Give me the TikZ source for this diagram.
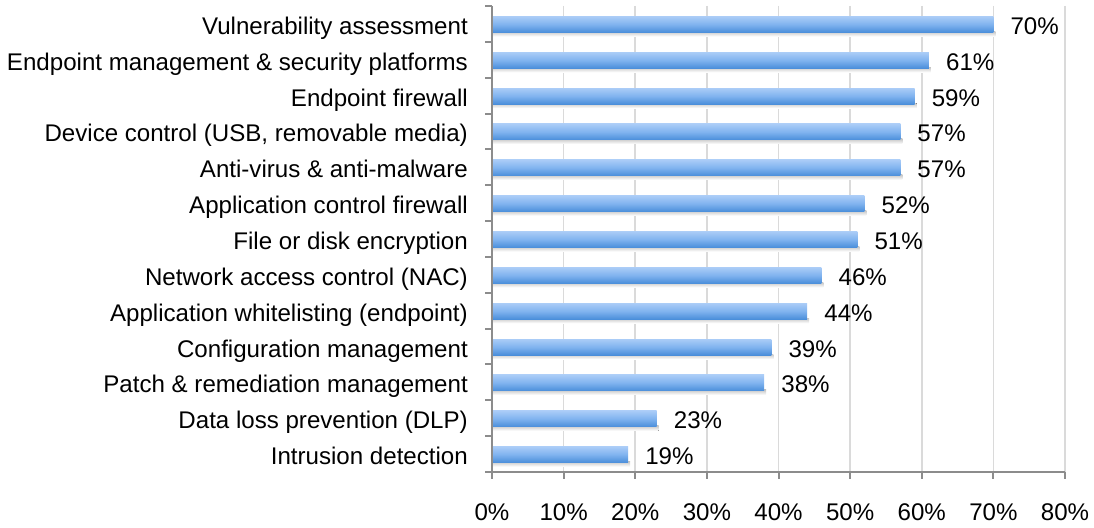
\documentclass[tikz,border=0pt]{standalone}
\usepackage{fontspec}
\setmainfont{Liberation Sans}
\definecolor{bartop}{HTML}{AACCF7}
\definecolor{barmid}{HTML}{80B3EF}
\definecolor{barbot}{HTML}{4A8EDA}
\definecolor{gridc}{HTML}{DADADA}
\definecolor{axisc}{HTML}{8C8C8C}
\tikzset{
  lbl/.style={anchor=base east, inner sep=0pt, font=\fontsize{24.1}{28}\selectfont},
  val/.style={anchor=base west, inner sep=0pt, font=\fontsize{24.1}{28}\selectfont},
  xlbl/.style={anchor=base, inner sep=0pt, font=\fontsize{24.1}{28}\selectfont},
  barbox/.style={top color=bartop, bottom color=barbot, middle color=barmid, draw=none},
  shadowbox/.style={top color=black!22, bottom color=white, draw=none},
  gridline/.style={draw=gridc, line width=1.6pt},
  axisline/.style={draw=axisc, line width=2pt}
}
\begin{document}
\begin{tikzpicture}[x=1pt, y=-1pt]
\useasboundingbox (0,0) rectangle (1094,527);
\def\xz{492}
\def\xs{7.1625}
\def\ytop{6}
\def\rowh{35.846}
% grid lines
\foreach \k in {1,...,8}{
  \draw[gridline] ({\xz+\k*10*\xs},\ytop) -- ({\xz+\k*10*\xs},472);
}
% bars
\foreach [count=\i from 0] \name/\v in {
  {Vulnerability assessment}/70,
  {Endpoint management \& security platforms}/61,
  {Endpoint firewall}/59,
  {Device control (USB, removable media)}/57,
  {Anti-virus \& anti-malware}/57,
  {Application control firewall}/52,
  {File or disk encryption}/51,
  {Network access control (NAC)}/46,
  {Application whitelisting (endpoint) }/44,
  {Configuration management}/39,
  {Patch \& remediation management}/38,
  {Data loss prevention (DLP)}/23,
  {Intrusion detection}/19}{
  \pgfmathsetmacro{\yc}{\ytop+\rowh*(\i+0.5)+0.5}
  \pgfmathsetmacro{\xe}{\xz+\v*\xs}
  \fill[shadowbox] (\xz,\yc+7) rectangle (\xe+2,\yc+12);
  \path[barbox] (\xz,\yc-8) rectangle (\xe,\yc+8);
  \coordinate (e\i) at (\xe,\yc);
  \node[lbl] (l\i) at (468,\yc+10) {\name};
  \node[val] (v\i) at ([xshift=17pt,yshift=-10pt]e\i) {\v\%};
}
% axes
\draw[axisline] (\xz,\ytop) -- (\xz,472) -- ({\xz+80*\xs},472);
\foreach \j in {0,...,13}{
  \draw[axisline] (485,{\ytop+\j*\rowh}) -- (\xz,{\ytop+\j*\rowh});
}
\foreach \k in {0,...,8}{
  \draw[axisline] ({\xz+\k*10*\xs},472) -- ({\xz+\k*10*\xs},479);
  \pgfmathtruncatemacro{\pc}{\k*10}
  \node[xlbl] (x\k) at ({\xz+\k*10*\xs},520) {\pc\%};
}
\end{tikzpicture}
\end{document}
